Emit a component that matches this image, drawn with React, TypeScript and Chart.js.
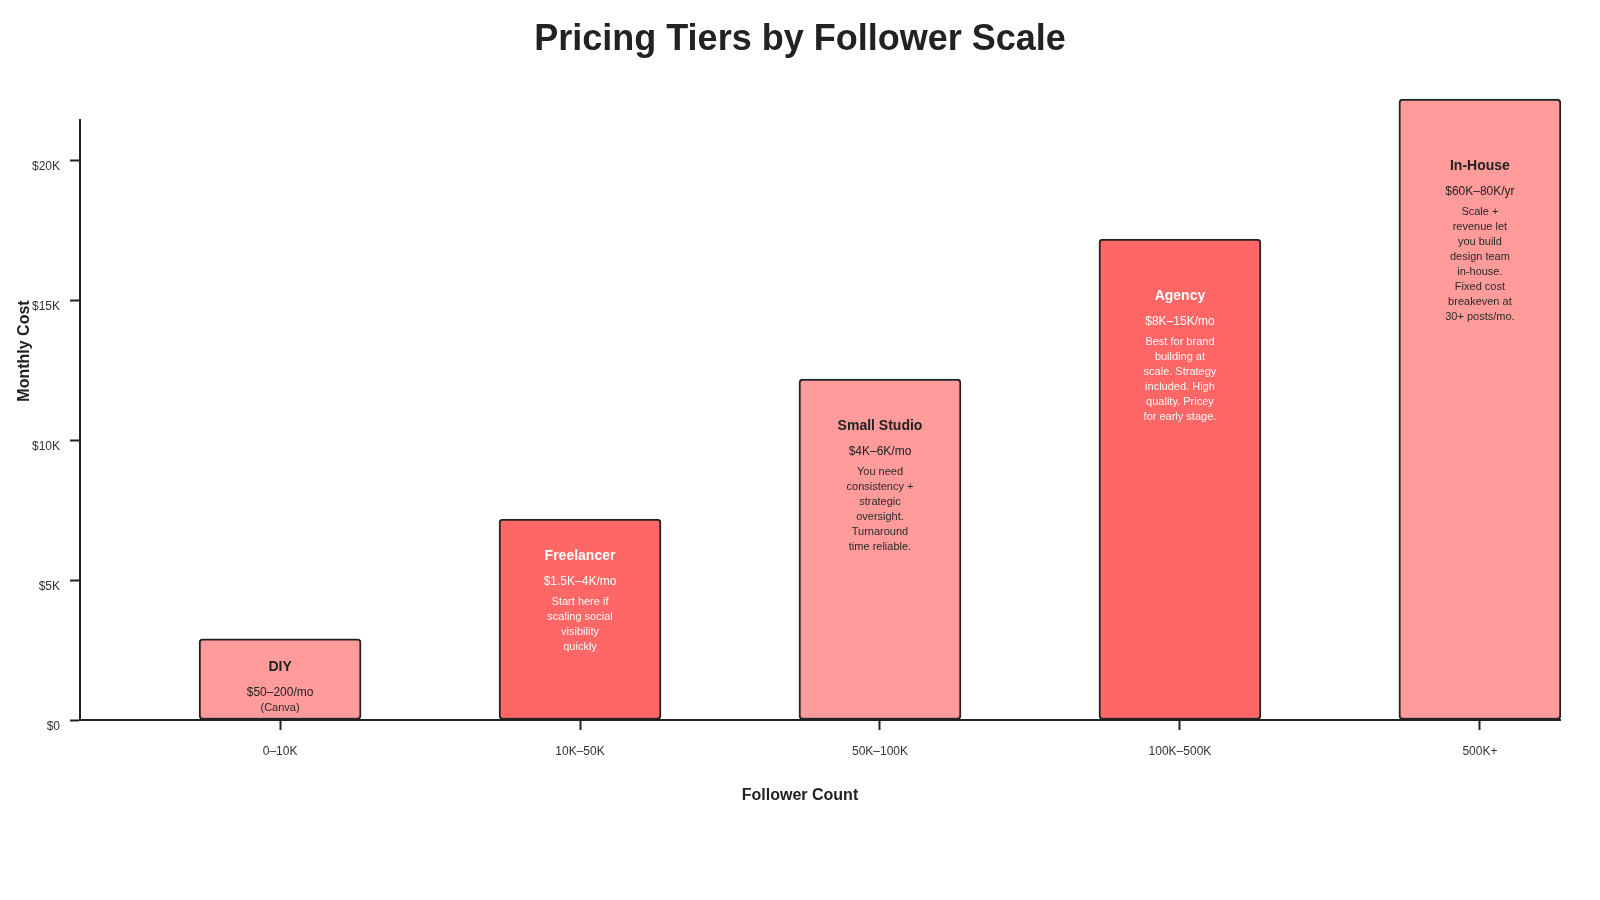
import React, { useEffect, useRef } from "react";
import { Chart, registerables } from "chart.js";

Chart.register(...registerables);

// ---- data ----
const tiers = ["DIY", "Freelancer", "Small Studio", "Agency", "In-House"];
const followerRanges = ["0–10K", "10K–50K", "50K–100K", "100K–500K", "500K+"];
const monthlyCost = [2900, 7180, 12180, 17180, 22180];
const priceLabels = ["$50–200/mo", "$1.5K–4K/mo", "$4K–6K/mo", "$8K–15K/mo", "$60K–80K/yr"];
const priceNotes = ["(Canva)", "", "", "", ""];
const descriptions = [
  [],
  ["Start here if", "scaling social", "visibility", "quickly"],
  ["You need", "consistency +", "strategic", "oversight.", "Turnaround", "time reliable."],
  ["Best for brand", "building at", "scale. Strategy", "included. High", "quality. Pricey", "for early stage."],
  ["Scale +", "revenue let", "you build", "design team", "in-house.", "Fixed cost", "breakeven at", "30+ posts/mo."],
];
const yTickValues = [0, 5000, 10000, 15000, 20000];
const yTickLabels = ["$0", "$5K", "$10K", "$15K", "$20K"];
const yAxisMax = 21430;
const xAxisMin = -0.667;
const xAxisMax = 4.267;

const chartTitle = "Pricing Tiers by Follower Scale";
const xTitle = "Follower Count";
const yTitle = "Monthly Cost";

// ---- styles ----
const LIGHT = "#ff9b9b";
const DARK = "#ff6666";
const barIsDark = [false, true, false, true, false];
const FONT = "'Liberation Sans', Arial, Helvetica, sans-serif";
const INK = "#222222";

const labelPlugin = {
  id: "tierLabels",
  afterDatasetsDraw(chart: any) {
    const ctx = chart.ctx;
    const meta = chart.getDatasetMeta(0);
    meta.data.forEach((el: any, i: number) => {
      const { x, y, base } = el.getProps(["x", "y", "base"], true);
      const dark = barIsDark[i];
      const nameY = y + 22.5 + 0.0714 * (base - y);
      ctx.save();
      ctx.textAlign = "center";
      ctx.textBaseline = "middle";
      ctx.fillStyle = dark ? "#ffffff" : INK;
      ctx.font = `bold 14px ${FONT}`;
      ctx.fillText(tiers[i], x, nameY);
      ctx.font = `12px ${FONT}`;
      ctx.fillText(priceLabels[i], x, nameY + 25.5);
      ctx.font = `11px ${FONT}`;
      ctx.fillStyle = dark ? "rgba(255,255,255,0.95)" : "#2a2a2a";
      if (priceNotes[i]) ctx.fillText(priceNotes[i], x, nameY + 40.5);
      descriptions[i].forEach((line, k) => {
        ctx.fillText(line, x, nameY + 46 + k * 15);
      });
      ctx.restore();
    });
  },
  afterDraw(chart: any) {
    const ctx = chart.ctx;
    ctx.save();
    ctx.fillStyle = INK;
    ctx.textAlign = "center";
    ctx.textBaseline = "middle";
    ctx.font = `bold 36px ${FONT}`;
    ctx.fillText(chartTitle, 800, 40);
    ctx.font = `bold 16px ${FONT}`;
    ctx.fillText(xTitle, 800, 796);
    ctx.translate(25, 351);
    ctx.rotate(-Math.PI / 2);
    ctx.fillText(yTitle, 0, 0);
    ctx.restore();
  },
};

export default function App() {
  const ref = useRef<HTMLCanvasElement | null>(null);
  useEffect(() => {
    document.body.style.margin = "0";
    if (!ref.current) return;
    const chart = new Chart(ref.current, {
      type: "bar",
      data: {
        datasets: [
          {
            data: monthlyCost.map((v, i) => ({ x: i, y: v })),
            backgroundColor: barIsDark.map((d) => (d ? DARK : LIGHT)),
            borderColor: INK,
            borderWidth: 2,
            borderRadius: 4,
            borderSkipped: false,
            barThickness: 162,
            clip: false,
          } as any,
        ],
      },
      options: {
        responsive: false,
        animation: false,
        layout: { padding: { top: 120, right: 40, left: 0, bottom: 0 } },
        plugins: { legend: { display: false }, tooltip: { enabled: false }, title: { display: false } },
        scales: {
          x: {
            type: "linear",
            min: xAxisMin,
            max: xAxisMax,
            offset: false,
            afterBuildTicks: (scale: any) => {
              scale.ticks = followerRanges.map((_, i) => ({ value: i }));
            },
            afterFit: (scale: any) => {
              scale.height = 180;
            },
            ticks: {
              callback: (v: any) => followerRanges[Math.round(Number(v))] ?? "",
              color: "#333",
              font: { size: 12, family: FONT },
              padding: 14,
              maxRotation: 0,
              autoSkip: false,
            },
            grid: {
              display: true,
              offset: false,
              drawOnChartArea: false,
              drawTicks: true,
              tickLength: 10,
              tickWidth: 2,
              tickColor: INK,
            },
            border: { display: true, color: INK, width: 2 },
          },
          y: {
            type: "linear",
            min: 0,
            max: yAxisMax,
            afterBuildTicks: (scale: any) => {
              scale.ticks = yTickValues.map((v) => ({ value: v }));
            },
            afterFit: (scale: any) => {
              scale.width = 80;
            },
            ticks: {
              callback: (v: any) => {
                const idx = yTickValues.indexOf(Number(v));
                return idx >= 0 ? yTickLabels[idx] : "";
              },
              color: "#333",
              font: { size: 12, family: FONT },
              padding: 10,
              labelOffset: 7,
            },
            grid: { display: true, drawOnChartArea: false, drawTicks: true, tickLength: 10, tickWidth: 2, tickColor: INK },
            border: { display: true, color: INK, width: 2 },
          },
        },
      },
      plugins: [labelPlugin],
    });
    return () => chart.destroy();
  }, []);
  return (
    <div style={{ width: 1600, height: 900, background: "#fff" }}>
      <canvas ref={ref} width={1600} height={900} style={{ display: "block" }} />
    </div>
  );
}
